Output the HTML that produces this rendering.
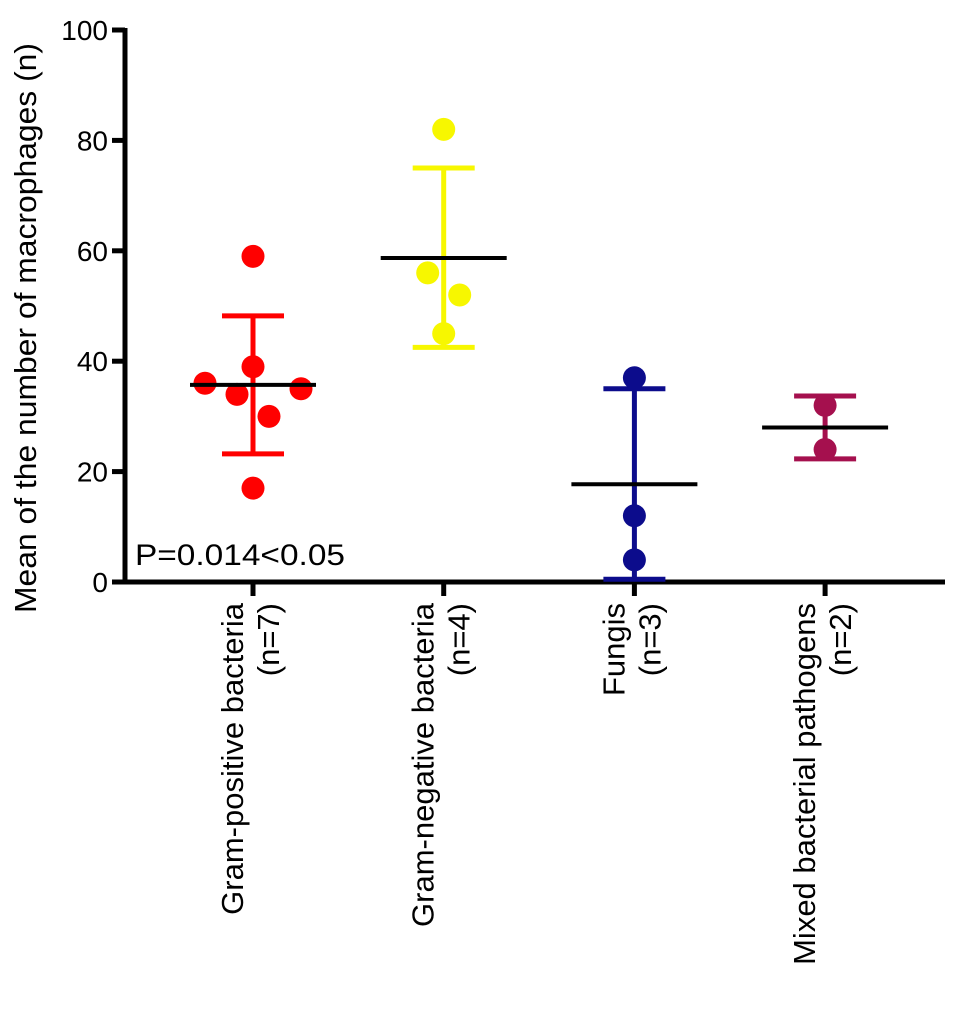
<!DOCTYPE html>
<html><head><meta charset="utf-8"><style>
body{margin:0;background:#fff;}
svg text{font-family:"Liberation Sans",Arial,sans-serif;}
</style></head><body>
<svg id="chart" width="969" height="1013">
<g id="axes"></g><g id="marks"></g>
</svg>
<script>
const categories=["Gram-positive bacteria","Gram-negative bacteria","Fungis","Mixed bacterial pathogens"];
const counts=["(n=7)","(n=4)","(n=3)","(n=2)"];
const colors=["#ff0000","#f7f700","#0c0c8c","#a5104e"];
const pointValues=[[59,39,36,34,35,30,17],[82,56,52,45],[37,12,4],[32,24]];
const pointJitter=[[0,0,-3,-1,3,1,0],[0,-1,1,0],[0,0,0],[0,0]];
const means=[35.7,58.7,17.7,28];
const errLow=[23.2,42.5,0.5,22.3];
const errHigh=[48.2,75,35,33.7];
const yTicks=[0,20,40,60,80,100];
const NS="http://www.w3.org/2000/svg";
const y=v=>582-v*5.52;
const xc=i=>253+i*190.7;
const axes=document.getElementById('axes'),marks=document.getElementById('marks');
function mk(p,tag,at){const e=document.createElementNS(NS,tag);for(const k in at)e.setAttribute(k,at[k]);p.appendChild(e);return e;}
let e=mk(axes,'line',{x1:125,y1:28,x2:125,y2:584,stroke:'#000','stroke-width':5});


e=mk(axes,'line',{x1:123,y1:582,x2:945,y2:582,stroke:'#000','stroke-width':5});


yTicks.forEach(t=>{
 let l=mk(axes,'line',{x1:112,y1:y(t),x2:125,y2:y(t),stroke:'#000','stroke-width':5});
 
 
 let tx=mk(axes,'text',{x:108,y:y(t)+10,'text-anchor':'end','font-size':28});
 tx.textContent=t;
 
 
});
e=mk(axes,'text',{x:0,y:0,'text-anchor':'middle','font-size':31,transform:'translate(36,328) rotate(-90)','textLength':570,'lengthAdjust':'spacingAndGlyphs'});
e.textContent='Mean of the number of macrophages (n)';


e=mk(axes,'text',{x:135,y:565,'font-size':30,'textLength':210,'lengthAdjust':'spacingAndGlyphs'});
e.textContent='P=0.014<0.05';


categories.forEach((c,i)=>{
 const x=xc(i);
 let l=mk(axes,'line',{x1:x,y1:582,x2:x,y2:596,stroke:'#000','stroke-width':5});
 
 
 let t=mk(axes,'text',{x:0,y:0,'text-anchor':'end','font-size':31,transform:`translate(${x-10},603) rotate(-90)`});
 t.textContent=c;
 
 
 let t2=mk(axes,'text',{x:0,y:0,'text-anchor':'end','font-size':31,transform:`translate(${x+26},603) rotate(-90)`});
 t2.textContent=counts[i];
 
 
 const col=colors[i];
 let g=mk(marks,'g',{});
 
 
 let el=mk(g,'line',{x1:x,y1:y(errLow[i]),x2:x,y2:y(errHigh[i]),stroke:col,'stroke-width':5});
 
 
 [errLow[i],errHigh[i]].forEach(v=>{
  let c2=mk(g,'line',{x1:x-31,y1:y(v),x2:x+31,y2:y(v),stroke:col,'stroke-width':5});
  
  
 });
 pointValues[i].forEach((v,j)=>{
  let p=mk(g,'circle',{cx:x+pointJitter[i][j]*16,cy:y(v),r:11.5,fill:col});
  
  
 });
 let m=mk(g,'line',{x1:x-63,y1:y(means[i]),x2:x+63,y2:y(means[i]),stroke:'#000','stroke-width':4});
 
 
});
</script>
</body></html>
